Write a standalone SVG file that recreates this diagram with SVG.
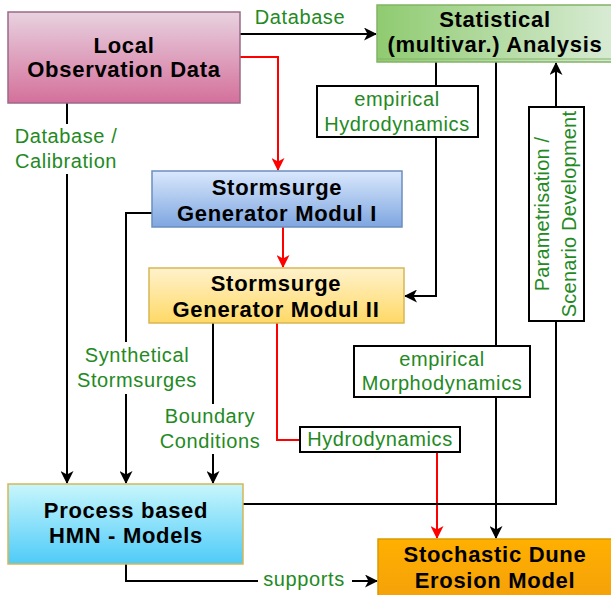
<svg xmlns="http://www.w3.org/2000/svg" width="611" height="595" viewBox="0 0 611 595">
<style>
.t{font-family:"Liberation Sans",Arial,sans-serif;font-weight:bold;font-size:22px;letter-spacing:0.7px;fill:#000;text-anchor:middle}
.g{font-family:"Liberation Sans",Arial,sans-serif;font-size:20px;letter-spacing:0.6px;fill:#238a23;text-anchor:middle}
.gv{font-family:"Liberation Sans",Arial,sans-serif;font-size:20px;letter-spacing:0.2px;fill:#238a23;text-anchor:middle}
.c{fill:none;stroke:#000;stroke-width:2}
.r{fill:none;stroke:#ff0000;stroke-width:2}
.lb{fill:#fff;stroke:#000;stroke-width:2}
.bg{fill:#fff;stroke:none}
</style>
<defs>
<linearGradient id="gLocal" x1="0" y1="0" x2="0" y2="1"><stop offset="0" stop-color="#e8d2e0"/><stop offset="1" stop-color="#d4709b"/></linearGradient>
<linearGradient id="gStat" x1="0" y1="0" x2="1" y2="0"><stop offset="0" stop-color="#8fcb70"/><stop offset="1" stop-color="#d8ebd4"/></linearGradient>
<linearGradient id="gM1" x1="0" y1="0" x2="0" y2="1"><stop offset="0" stop-color="#dae8fc"/><stop offset="1" stop-color="#7ea6e0"/></linearGradient>
<linearGradient id="gM2" x1="0" y1="0" x2="0" y2="1"><stop offset="0" stop-color="#fff2cc"/><stop offset="1" stop-color="#ffd966"/></linearGradient>
<linearGradient id="gHMN" x1="0" y1="0" x2="0" y2="1"><stop offset="0" stop-color="#c8f6fc"/><stop offset="1" stop-color="#4ecbf8"/></linearGradient>
<linearGradient id="gSt" x1="0" y1="0" x2="0" y2="1"><stop offset="0" stop-color="#ffb000"/><stop offset="1" stop-color="#f5a10a"/></linearGradient>
<marker id="ab" markerWidth="13" markerHeight="13" viewBox="0 0 13 13" refX="12" refY="6.5" orient="auto" markerUnits="userSpaceOnUse"><path d="M0,0 L13,6.5 L0,13 L3.5,6.5 z" fill="#000"/></marker>
<marker id="ar" markerWidth="13" markerHeight="13" viewBox="0 0 13 13" refX="12" refY="6.5" orient="auto" markerUnits="userSpaceOnUse"><path d="M0,0 L13,6.5 L0,13 L3.5,6.5 z" fill="#ff0000"/></marker>
</defs>

<g id="connectors">
<path class="c" d="M240,34 H376" marker-end="url(#ab)"/>
<path class="r" d="M240,57 H278 V170" marker-end="url(#ar)"/>
<path class="r" d="M283,227 V267" marker-end="url(#ar)"/>
<path class="c" d="M67,103 V483" marker-end="url(#ab)"/>
<path class="c" d="M152,213 H126 V483" marker-end="url(#ab)"/>
<path class="c" d="M213,323 V483" marker-end="url(#ab)"/>
<path class="r" d="M277,323 V440 H300"/>
<path class="r" d="M437,452 V538" marker-end="url(#ar)"/>
<path class="c" d="M436,62 V296 H405" marker-end="url(#ab)"/>
<path class="c" d="M496,62 V538" marker-end="url(#ab)"/>
<path class="c" d="M243,504 H556 V321"/>
<path class="c" d="M556,107 V63" marker-end="url(#ab)"/>
<path class="c" d="M126,564 V581 H258"/>
<path class="c" d="M352,581 H377" marker-end="url(#ab)"/>
</g>

<g id="label-database">
<text class="g" x="300" y="24">Database</text>
</g>
<g id="label-database-calibration">
<rect class="bg" x="10" y="124" width="114" height="50"/>
<text class="g" x="66" y="143">Database /</text>
<text class="g" x="66" y="168">Calibration</text>
</g>
<g id="label-synthetical">
<rect class="bg" x="74" y="342" width="128" height="52"/>
<text class="g" x="137" y="362">Synthetical</text>
<text class="g" x="137" y="387">Stormsurges</text>
</g>
<g id="label-boundary">
<rect class="bg" x="156" y="404" width="108" height="50"/>
<text class="g" x="210" y="423">Boundary</text>
<text class="g" x="210" y="448">Conditions</text>
</g>
<g id="label-supports">
<text class="g" x="304" y="586">supports</text>
</g>

<g id="box-empirical-hydro">
<rect class="lb" x="317" y="86" width="161" height="51"/>
<text class="g" x="397" y="106">empirical</text>
<text class="g" x="397" y="131">Hydrodynamics</text>
</g>
<g id="box-empirical-morpho">
<rect class="lb" x="354" y="346" width="176" height="51"/>
<text class="g" x="442" y="366">empirical</text>
<text class="g" x="442" y="390">Morphodynamics</text>
</g>
<g id="box-hydrodynamics">
<rect class="lb" x="300" y="427" width="160" height="25"/>
<text class="g" x="380" y="446">Hydrodynamics</text>
</g>
<g id="box-parametrisation">
<rect class="lb" x="529" y="107" width="55" height="214"/>
<text class="gv" transform="translate(549,214) rotate(-90)" x="0" y="0">Parametrisation /</text>
<text class="gv" transform="translate(576,214) rotate(-90)" x="0" y="0">Scenario Development</text>
</g>

<g id="node-local">
<rect x="8" y="12" width="232" height="91" fill="url(#gLocal)" stroke="#9a6a88" stroke-width="1.5"/>
<text class="t" x="124" y="53">Local</text>
<text class="t" x="124" y="77">Observation Data</text>
</g>
<g id="node-statistical">
<rect x="377" y="5" width="236" height="57" fill="url(#gStat)" stroke="#82b366" stroke-width="1.5"/>
<line x1="377" y1="59" x2="611" y2="59" stroke="#82b366" stroke-width="1"/>
<text class="t" x="495" y="27">Statistical</text>
<text class="t" x="495" y="52">(multivar.) Analysis</text>
</g>
<g id="node-modul1">
<rect x="152" y="171" width="250" height="56" fill="url(#gM1)" stroke="#6c8ebf" stroke-width="1.5"/>
<text class="t" x="277" y="195">Stormsurge</text>
<text class="t" x="277" y="221">Generator Modul I</text>
</g>
<g id="node-modul2">
<rect x="149" y="268" width="255" height="55" fill="url(#gM2)" stroke="#d6b656" stroke-width="1.5"/>
<text class="t" x="276" y="291">Stormsurge</text>
<text class="t" x="276" y="317">Generator Modul II</text>
</g>
<g id="node-hmn">
<rect x="8" y="484" width="235" height="80" fill="url(#gHMN)" stroke="#d6b656" stroke-width="1.5"/>
<text class="t" x="126" y="518">Process based</text>
<text class="t" x="126" y="543">HMN - Models</text>
</g>
<g id="node-stochastic">
<rect x="378" y="539" width="235" height="58" fill="url(#gSt)" stroke="#d79b00" stroke-width="1.5"/>
<text class="t" x="495" y="562">Stochastic Dune</text>
<text class="t" x="495" y="588">Erosion Model</text>
</g>
</svg>
